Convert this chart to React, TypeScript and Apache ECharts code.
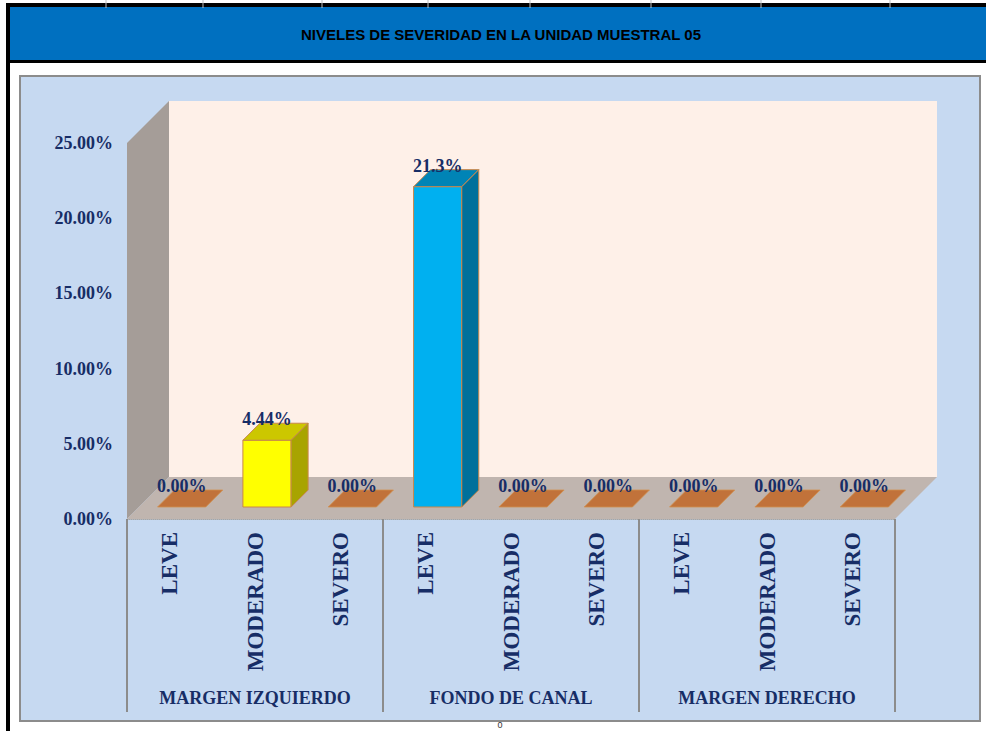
import React, { useEffect, useRef } from "react";
import * as echarts from "echarts";

// ---- data ----
const categories = ["LEVE", "MODERADO", "SEVERO", "LEVE", "MODERADO", "SEVERO", "LEVE", "MODERADO", "SEVERO"];
const groups = ["MARGEN IZQUIERDO", "FONDO DE CANAL", "MARGEN DERECHO"];
const values = [0, 4.44, 0, 21.3, 0, 0, 0, 0, 0];
const valueLabels = ["0.00%", "4.44%", "0.00%", "21.3%", "0.00%", "0.00%", "0.00%", "0.00%", "0.00%"];
const yMin = 0;
const yMax = 25;
const yStep = 5;
const title = "NIVELES DE SEVERIDAD EN LA UNIDAD MUESTRAL 05";

// ---- styles ----
const NAVY = "#172D66";
const SERIF = '"Liberation Serif", "Times New Roman", serif';
const DEPTH = 42;
const BAR_OFF = 12;
const BAR_D = 17;
const faceColors: Record<number, [string, string, string]> = {
  1: ["#FFFF00", "#CCC700", "#A8A400"],
  3: ["#00B0F0", "#0084B6", "#00709B"],
};
const ZERO_COLOR = "#C1723A";
const EDGE = "#C8884C";

export default function App() {
  const ref = useRef<HTMLDivElement>(null);
  useEffect(() => {
    document.body.style.margin = "0";
    const chart = echarts.init(ref.current!, null, { renderer: "svg" });
    const gridTicks = [106, 203, 322, 428, 530, 651, 761, 890];
    const option: any = {
      animation: false,
      backgroundColor: "#FFFFFF",
      graphic: [
        { type: "rect", shape: { x: 6, y: 3, width: 990, height: 60 }, style: { fill: "#000000" }, z: 0 },
        { type: "rect", shape: { x: 10, y: 7, width: 980, height: 53 }, style: { fill: "#0070C0" }, z: 1 },
        { type: "rect", shape: { x: 6, y: 60, width: 4, height: 680 }, style: { fill: "#000000" }, z: 1 },
        ...gridTicks.map((x) => ({
          type: "line",
          shape: { x1: x, y1: 0, x2: x, y2: 8 },
          style: { stroke: "#BFBFBF", lineWidth: 1 },
          z: 2,
        })),
        {
          type: "text",
          x: 501,
          y: 34,
          style: {
            text: title,
            fill: "#000000",
            font: 'bold 15px "Liberation Sans Narrow", "Arial Narrow", "Liberation Sans", sans-serif',
            align: "center",
            verticalAlign: "middle",
          },
          z: 3,
        },
        {
          type: "rect",
          shape: { x: 20, y: 76, width: 960, height: 645 },
          style: { fill: "#C6D9F1", stroke: "#8C8C8C", lineWidth: 2 },
          z: -10,
        },
        {
          type: "text",
          x: 500,
          y: 725,
          style: { text: "0", fill: "#333333", font: "9px sans-serif", align: "center", verticalAlign: "middle" },
          z: 3,
        },
      ],
      grid: { left: 127, right: 91, top: 143, bottom: 212, containLabel: false },
      xAxis: [
        {
          type: "category",
          data: categories,
          position: "bottom",
          axisLine: { show: true, lineStyle: { color: "#A6A6A6", type: "dotted", width: 1 } },
          axisTick: { show: false },
          axisLabel: {
            interval: 0,
            rotate: 90,
            margin: 13,
            fontSize: 23,
            fontWeight: "bold",
            fontFamily: SERIF,
            color: NAVY,
          },
          splitLine: { show: false },
        },
        {
          type: "category",
          data: groups,
          position: "bottom",
          axisLine: { show: false },
          axisTick: { show: true, length: 193, lineStyle: { color: "#8C8C8C", width: 2 } },
          axisLabel: {
            interval: 0,
            margin: 170,
            fontSize: 18,
            fontWeight: "bold",
            fontFamily: SERIF,
            color: NAVY,
          },
          splitLine: { show: false },
        },
      ],
      yAxis: {
        type: "value",
        min: yMin,
        max: yMax,
        interval: yStep,
        axisLine: { show: false },
        axisTick: { show: false },
        splitLine: { show: false },
        axisLabel: {
          margin: 14,
          fontSize: 18,
          fontWeight: "bold",
          fontFamily: SERIF,
          color: NAVY,
          formatter: (v: number) => v.toFixed(2) + "%",
        },
      },
      series: [
        {
          type: "custom",
          name: "walls",
          xAxisIndex: 0,
          yAxisIndex: 0,
          silent: true,
          z: 1,
          data: [[0, 0]],
          renderItem: (params: any, api: any) => {
            const band = api.size([1, 0])[0];
            const c0 = api.coord([0, yMin]);
            const cTop = api.coord([0, yMax]);
            const x0 = c0[0] - band / 2;
            const x1 = x0 + band * categories.length;
            const y0 = c0[1];
            const yT = cTop[1];
            const D = DEPTH;
            return {
              type: "group",
              children: [
                {
                  type: "rect",
                  shape: { x: x0 + D, y: yT - D, width: x1 - x0, height: y0 - yT },
                  style: { fill: "#FEF0E8" },
                },
                {
                  type: "polygon",
                  shape: { points: [[x0, yT], [x0 + D, yT - D], [x0 + D, y0 - D], [x0, y0]] },
                  style: { fill: "#A59D98" },
                },
                {
                  type: "polygon",
                  shape: { points: [[x0, y0], [x0 + D, y0 - D], [x1 + D, y0 - D], [x1, y0]] },
                  style: { fill: "#C0B5AF" },
                },
              ],
            };
          },
        },
        {
          type: "custom",
          name: "valores",
          xAxisIndex: 0,
          yAxisIndex: 0,
          z: 2,
          data: values.map((v, i) => [i, v]),
          encode: { x: 0, y: 1 },
          renderItem: (params: any, api: any) => {
            const idx = api.value(0);
            const v = api.value(1);
            const top = api.coord([idx, v]);
            const base = api.coord([idx, 0]);
            const band = api.size([1, 0])[0];
            const w = band * 0.565;
            const cx = top[0] + BAR_OFF;
            const L = cx - w / 2;
            const R = cx + w / 2;
            const yT = top[1] - BAR_OFF;
            const yB = base[1] - BAR_OFF;
            const d = BAR_D;
            const children: any[] = [];
            if (v === 0) {
              children.push({
                type: "polygon",
                shape: { points: [[L, yB], [L + d, yB - d], [R + d, yB - d], [R, yB]] },
                style: { fill: ZERO_COLOR, stroke: "#D0904F", lineWidth: 0.8 },
              });
            } else {
              const [fc, tc, sc] = faceColors[idx] || [ZERO_COLOR, ZERO_COLOR, ZERO_COLOR];
              children.push({
                type: "rect",
                shape: { x: L, y: yT, width: R - L, height: yB - yT },
                style: { fill: fc, stroke: EDGE, lineWidth: 1 },
              });
              children.push({
                type: "polygon",
                shape: { points: [[L, yT], [L + d, yT - d], [R + d, yT - d], [R, yT]] },
                style: { fill: tc, stroke: EDGE, lineWidth: 1 },
              });
              children.push({
                type: "polygon",
                shape: { points: [[R, yT], [R + d, yT - d], [R + d, yB - d], [R, yB]] },
                style: { fill: sc, stroke: EDGE, lineWidth: 1 },
              });
            }
            children.push({
              type: "text",
              x: cx,
              y: yT - 21,
              style: {
                text: valueLabels[idx],
                fill: NAVY,
                fontSize: 18,
                fontWeight: "bold",
                fontFamily: SERIF,
                align: "center",
                verticalAlign: "middle",
              },
            });
            return { type: "group", children };
          },
        },
      ],
    };
    chart.setOption(option);
    return () => chart.dispose();
  }, []);
  return <div ref={ref} style={{ width: 986, height: 731 }} />;
}
